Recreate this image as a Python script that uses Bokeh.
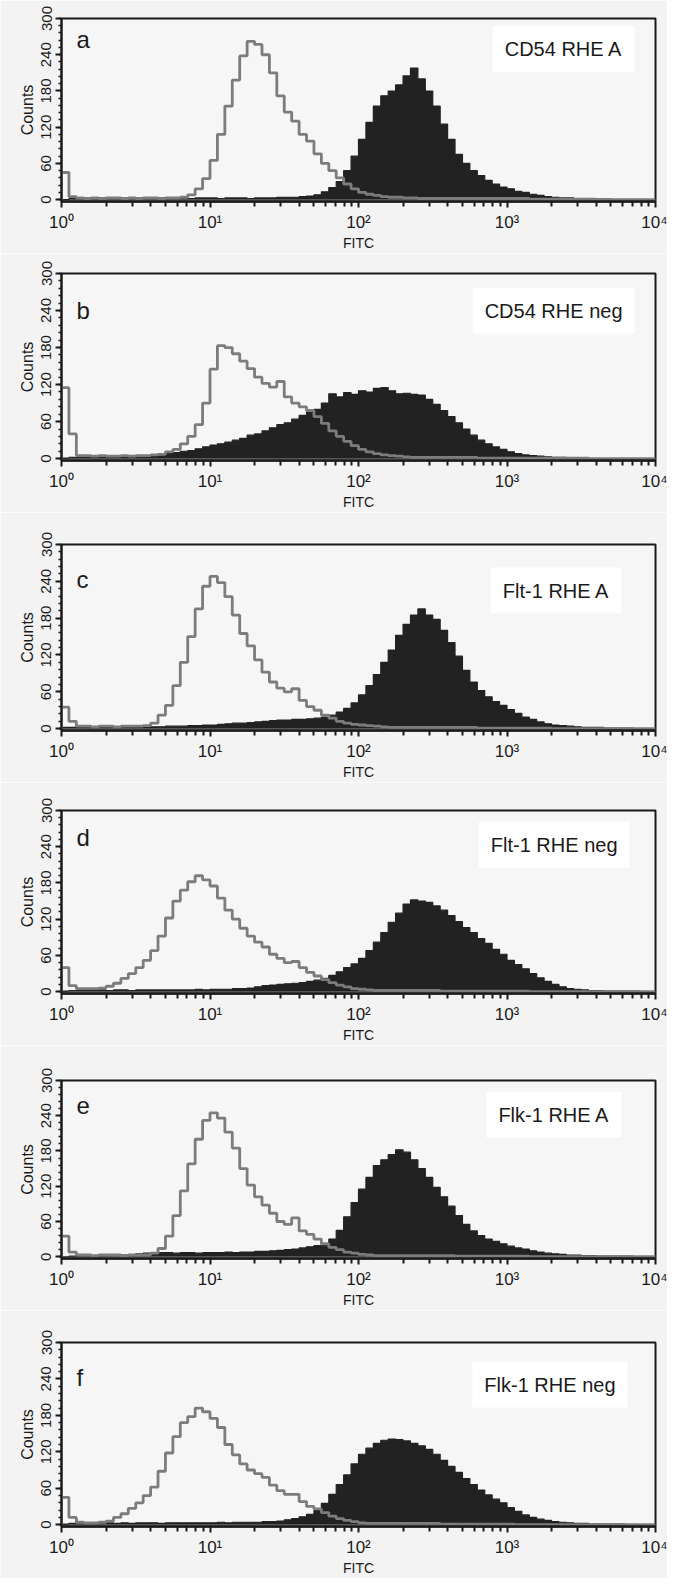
import numpy as np
from bokeh.plotting import figure
from bokeh.layouts import column
from bokeh.models import Range1d, FixedTicker, Label
from bokeh.embed import file_html
from bokeh.resources import INLINE

# ---------------- DATA ----------------
# histogram bins: 20 bins per decade, FITC 10^0 .. 10^4 (80 bins)
bins_per_decade = 20
n_bins = 80

panel_letters = ["a", "b", "c", "d", "e", "f"]
panel_titles = ["CD54 RHE A", "CD54 RHE neg", "Flt-1 RHE A",
                "Flt-1 RHE neg", "Flk-1 RHE A", "Flk-1 RHE neg"]
y_ticks = [0, 60, 120, 180, 240, 300]
x_ticks = [1, 10, 100, 1000, 10000]
x_tick_labels = ["10\u2070", "10\u00b9", "10\u00b2", "10\u00b3", "10\u2074"]

# control (grey outline) histograms
a_control = [45, 5, 3, 2, 3, 2, 3, 3, 2, 3,
             2, 3, 3, 2, 3, 3, 4, 8, 18, 35,
             65, 108, 155, 198, 238, 262, 257, 240, 210, 172,
             145, 130, 108, 97, 76, 60, 48, 36, 26, 18,
             12, 9, 7, 5, 4, 4, 3, 3, 2, 2,
             2, 2, 2, 2, 2, 2, 2, 2, 2, 2,
             2, 2, 2, 1, 1, 1, 1, 1, 1, 1,
             1, 1, 0, 0, 0, 0, 0, 0, 0, 0]
b_control = [115, 40, 5, 5, 4, 5, 4, 4, 5, 4,
             5, 5, 6, 7, 11, 15, 24, 36, 55, 90,
             145, 183, 180, 170, 158, 146, 132, 122, 116, 125,
             100, 90, 84, 78, 68, 57, 45, 36, 28, 21,
             15, 11, 8, 6, 5, 4, 3, 2, 2, 2,
             2, 2, 2, 2, 2, 2, 1, 1, 1, 1,
             1, 1, 1, 1, 1, 1, 1, 1, 1, 1,
             1, 0, 0, 0, 0, 0, 0, 0, 0, 0]
c_control = [35, 12, 4, 4, 3, 4, 4, 3, 4, 4,
             4, 5, 9, 22, 38, 70, 108, 150, 195, 232,
             248, 238, 215, 185, 155, 135, 112, 92, 76, 66,
             60, 65, 46, 36, 30, 22, 17, 12, 9, 7,
             6, 5, 4, 3, 2, 2, 2, 2, 2, 2,
             2, 2, 2, 2, 2, 2, 1, 1, 1, 1,
             1, 1, 1, 1, 1, 1, 0, 0, 0, 0,
             0, 0, 0, 0, 0, 0, 0, 0, 0, 0]
d_control = [40, 10, 5, 5, 5, 6, 9, 14, 22, 30,
             40, 52, 68, 92, 122, 150, 168, 182, 192, 185,
             175, 155, 135, 120, 105, 92, 82, 74, 62, 55,
             48, 50, 40, 32, 26, 20, 15, 11, 8, 5,
             4, 3, 2, 2, 2, 2, 2, 2, 2, 2,
             2, 1, 1, 1, 1, 1, 1, 1, 1, 1,
             1, 1, 1, 0, 0, 0, 0, 0, 0, 0,
             0, 0, 0, 0, 0, 0, 0, 0, 0, 0]
e_control = [35, 8, 3, 3, 2, 3, 3, 3, 2, 3,
             3, 3, 6, 14, 35, 70, 112, 158, 200, 232,
             245, 236, 212, 185, 150, 122, 102, 88, 74, 60,
             55, 66, 44, 38, 30, 22, 16, 12, 8, 6,
             4, 3, 2, 2, 2, 2, 2, 2, 2, 2,
             2, 2, 2, 1, 1, 1, 1, 1, 1, 1,
             1, 1, 1, 0, 0, 0, 0, 0, 0, 0,
             0, 0, 0, 0, 0, 0, 0, 0, 0, 0]
f_control = [45, 12, 4, 3, 3, 4, 6, 12, 18, 27,
             36, 48, 62, 88, 118, 145, 168, 178, 192, 186,
             175, 160, 132, 115, 100, 90, 84, 78, 65, 56,
             50, 50, 38, 30, 26, 20, 14, 10, 7, 5,
             3, 2, 2, 2, 2, 2, 2, 2, 2, 2,
             2, 1, 1, 1, 1, 1, 1, 1, 1, 1,
             1, 0, 0, 0, 0, 0, 0, 0, 0, 0,
             0, 0, 0, 0, 0, 0, 0, 0, 0, 0]

# stained (black filled) histograms
a_stained = [0, 2, 3, 2, 2, 3, 2, 3, 2, 2,
             3, 2, 3, 3, 2, 3, 3, 2, 3, 3,
             3, 2, 3, 3, 3, 2, 3, 3, 3, 4,
             4, 4, 5, 6, 8, 13, 20, 30, 48, 72,
             100, 128, 155, 172, 180, 190, 205, 218, 200, 180,
             155, 125, 100, 75, 60, 48, 40, 32, 26, 21,
             18, 14, 12, 9, 7, 5, 4, 3, 3, 2,
             2, 1, 1, 1, 0, 0, 0, 0, 0, 0]
b_stained = [1, 2, 2, 2, 2, 3, 3, 3, 3, 4,
             4, 5, 6, 8, 9, 10, 12, 13, 16, 19,
             22, 24, 27, 30, 33, 38, 40, 45, 50, 55,
             58, 64, 70, 76, 80, 90, 105, 100, 107, 104,
             110, 108, 114, 115, 110, 105, 106, 104, 103, 96,
             88, 78, 68, 58, 48, 38, 30, 24, 19, 15,
             11, 8, 6, 5, 4, 3, 2, 2, 1, 1,
             1, 0, 0, 0, 0, 0, 0, 0, 0, 0]
c_stained = [2, 2, 2, 3, 2, 3, 3, 2, 3, 3,
             3, 3, 3, 3, 4, 4, 4, 5, 5, 6,
             6, 7, 8, 9, 9, 10, 11, 12, 13, 14,
             14, 15, 15, 16, 17, 19, 22, 27, 33, 42,
             55, 70, 88, 108, 128, 152, 170, 185, 195, 185,
             178, 160, 140, 118, 95, 76, 62, 52, 44, 38,
             31, 25, 19, 15, 11, 8, 6, 5, 4, 3,
             2, 2, 2, 1, 1, 1, 1, 0, 0, 0]
d_stained = [1, 2, 2, 2, 2, 3, 2, 3, 3, 2,
             3, 3, 3, 3, 3, 3, 3, 3, 4, 3,
             4, 4, 4, 5, 5, 6, 8, 10, 11, 12,
             13, 14, 15, 17, 19, 22, 27, 33, 40, 46,
             55, 68, 82, 98, 115, 130, 145, 152, 150, 148,
             142, 135, 126, 116, 106, 98, 88, 80, 70, 62,
             52, 45, 38, 30, 23, 17, 12, 8, 5, 4,
             3, 2, 2, 1, 1, 1, 1, 1, 0, 0]
e_stained = [0, 1, 2, 2, 2, 2, 3, 3, 3, 3,
             5, 6, 6, 7, 7, 6, 7, 7, 6, 7,
             7, 7, 8, 7, 8, 8, 9, 9, 10, 11,
             12, 13, 15, 17, 19, 23, 30, 45, 68, 92,
             115, 135, 155, 165, 174, 182, 178, 165, 150, 135,
             118, 102, 86, 70, 55, 44, 36, 30, 26, 22,
             18, 15, 13, 10, 8, 6, 5, 4, 3, 3,
             2, 2, 1, 1, 1, 1, 1, 0, 0, 0]
f_stained = [1, 2, 2, 2, 2, 2, 3, 2, 3, 2,
             3, 3, 3, 2, 3, 3, 3, 3, 3, 3,
             3, 4, 3, 4, 4, 4, 4, 5, 5, 6,
             8, 10, 13, 17, 24, 35, 50, 66, 82, 100,
             116, 126, 134, 139, 141, 140, 138, 134, 130, 124,
             116, 106, 96, 86, 76, 66, 57, 49, 42, 36,
             28, 22, 16, 12, 9, 7, 5, 4, 3, 2,
             2, 1, 1, 1, 1, 1, 0, 0, 0, 0]

controls = [a_control, b_control, c_control, d_control, e_control, f_control]
stained = [a_stained, b_stained, c_stained, d_stained, e_stained, f_stained]

# ---------------- LAYOUT / STYLE ----------------
FIG_W = 667
BORDER_L = 61
BORDER_R = 12
FRAME_W = FIG_W - BORDER_L - BORDER_R
fig_heights = [253, 259, 270, 263, 265, 268]
border_tops = [18, 20, 32, 28, 35, 32]
border_bottoms = [48, 48, 48, 48, 48, 48]
# label offsets in px (from frame left / frame top)
letter_offsets = [(15, 21), (15, 38), (15, 36), (15, 28), (15, 26), (15, 36)]
title_offsets = [(573, 31), (573, 38), (560, 47), (568, 35), (560, 35), (566, 43)]

Y0, Y1 = -3, 300
FONT = "Liberation Sans"
GREY = "#7c7c7c"
BLACK = "#222222"
INK = "#1a1a1a"

edges = 10 ** (np.arange(n_bins + 1) / bins_per_decade)
minor_x = [m * 10 ** k for k in range(4) for m in range(2, 10)]


def px_to_x(dx):
    return 10 ** (dx / FRAME_W * 4.0)


def px_to_y(dy, frame_h):
    return Y1 - dy * (Y1 - Y0) / frame_h


figs = []
for i in range(6):
    frame_h = fig_heights[i] - border_tops[i] - border_bottoms[i]
    p = figure(width=FIG_W, height=fig_heights[i], x_axis_type="log",
               x_range=Range1d(1, 1e4), y_range=Range1d(Y0, Y1),
               output_backend="svg", toolbar_location=None,
               min_border_left=BORDER_L, min_border_right=BORDER_R,
               min_border_top=border_tops[i], min_border_bottom=border_bottoms[i])
    p.background_fill_color = "#f6f6f6"
    p.border_fill_color = "#f3f3f3"
    p.outline_line_color = INK
    p.outline_line_width = 2
    p.grid.visible = False

    vals_s = list(stained[i]) + [stained[i][-1]]
    vals_c = controls[i]
    p.varea_step(x=edges, y1=[0] * len(edges), y2=vals_s, step_mode="after",
                 fill_color=BLACK)
    p.step(x=edges, y=vals_s, mode="after", line_color=BLACK, line_width=1.2)
    xs = [edges[0]] + list(edges)
    ys = [0] + list(vals_c) + [vals_c[-1]]
    p.step(x=xs, y=ys, mode="after", line_color=GREY, line_width=2.8)

    # axes
    xa = p.xaxis[0]
    xa.ticker = FixedTicker(ticks=x_ticks, minor_ticks=minor_x)
    xa.major_label_overrides = {float(t): lab for t, lab in zip(x_ticks, x_tick_labels)}
    xa.axis_label = "FITC"
    xa.axis_label_text_font = FONT
    xa.axis_label_text_font_style = "normal"
    xa.axis_label_text_font_size = "14px"
    xa.axis_label_standoff = 0
    xa.major_label_text_font = FONT
    xa.major_label_text_font_size = "17px"
    xa.major_label_standoff = 5
    xa.major_tick_out = 6
    xa.major_tick_in = 0
    xa.minor_tick_out = 5
    xa.minor_tick_in = 0
    xa.axis_line_width = 2.5
    xa.major_tick_line_width = 2
    xa.minor_tick_line_width = 2
    xa.axis_line_color = INK
    xa.major_tick_line_color = INK
    xa.minor_tick_line_color = INK
    xa.major_label_text_color = INK
    xa.axis_label_text_color = INK

    ya = p.yaxis[0]
    ya.ticker = FixedTicker(ticks=y_ticks, minor_ticks=list(range(0, 301, 12)))
    ya.major_label_orientation = "vertical"
    ya.axis_label = "Counts"
    ya.axis_label_text_font = FONT
    ya.axis_label_text_font_style = "normal"
    ya.axis_label_text_font_size = "16px"
    ya.axis_label_standoff = 3
    ya.major_label_text_font = FONT
    ya.major_label_text_font_size = "15px"
    ya.major_label_standoff = 4
    ya.major_tick_out = 6
    ya.major_tick_in = 0
    ya.minor_tick_out = 3
    ya.minor_tick_in = 0
    ya.axis_line_width = 2
    ya.major_tick_line_width = 2
    ya.minor_tick_line_width = 1.5
    ya.axis_line_color = INK
    ya.major_tick_line_color = INK
    ya.minor_tick_line_color = INK
    ya.major_label_text_color = INK
    ya.axis_label_text_color = INK

    lx, ly = letter_offsets[i]
    p.add_layout(Label(x=px_to_x(lx), y=px_to_y(ly, frame_h), text=panel_letters[i],
                       text_font=FONT, text_font_size="24px", text_color=INK,
                       text_baseline="middle", text_align="left"))
    tx, ty = title_offsets[i]
    p.add_layout(Label(x=px_to_x(tx), y=px_to_y(ty, frame_h), text=panel_titles[i],
                       text_font=FONT, text_font_size="20px", text_color=INK,
                       text_baseline="middle", text_align="right",
                       background_fill_color="white", padding=12))
    figs.append(p)

layout = column(*figs, spacing=0)
open("out.html", "w").write(file_html(layout, INLINE, "FITC histograms"))
